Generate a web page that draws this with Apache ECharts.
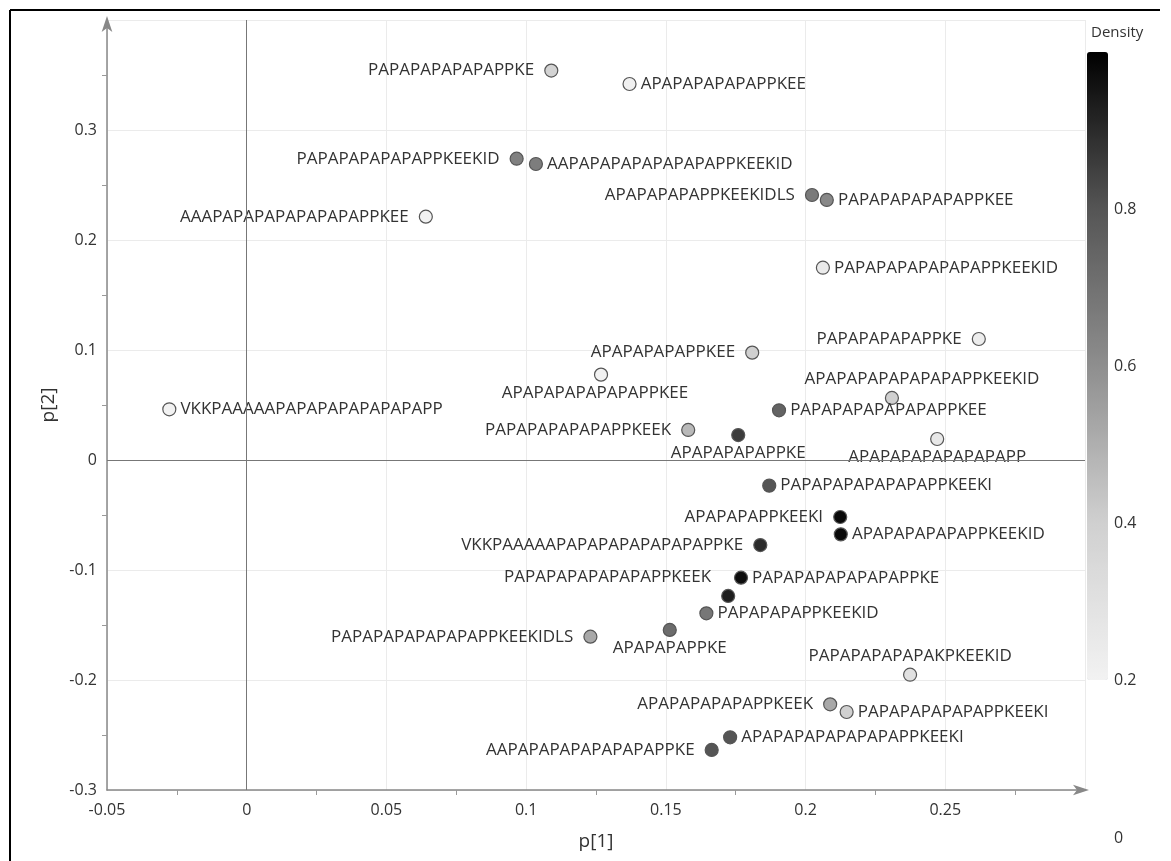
<!DOCTYPE html>
<html>
<head>
<meta charset="utf-8">
<script src="https://cdn.jsdelivr.net/npm/echarts@6/dist/echarts.min.js"></script>
<style>
html,body{margin:0;padding:0;background:#fff;}
#main{width:1171px;height:861px;}
</style>
</head>
<body>
<div id="main"></div>
<script>
// 肽段名称
var names = [
	'PAPAPAPAPAPAPPKE', 'APAPAPAPAPAPPKEE', 'PAPAPAPAPAPAPPKEEKID', 'AAPAPAPAPAPAPAPAPPKEEKID',
	'APAPAPAPAPPKEEKIDLS', 'PAPAPAPAPAPAPPKEE', 'AAAPAPAPAPAPAPAPAPPKEE', 'PAPAPAPAPAPAPAPPKEEKID',
	'PAPAPAPAPAPPKE', 'APAPAPAPAPPKEE', 'APAPAPAPAPAPAPPKEE', 'APAPAPAPAPAPAPAPPKEEKID',
	'PAPAPAPAPAPAPAPPKEE', 'PAPAPAPAPAPAPPKEEK', 'APAPAPAPAPPKE', 'APAPAPAPAPAPAPAPP',
	'PAPAPAPAPAPAPAPPKEEKI', 'APAPAPAPPKEEKI', 'APAPAPAPAPAPPKEEKID', 'VKKPAAAAAPAPAPAPAPAPAPAPPKE',
	'PAPAPAPAPAPAPAPPKE', 'PAPAPAPAPAPAPAPPKEEK', 'PAPAPAPAPPKEEKID', 'APAPAPAPPKE',
	'PAPAPAPAPAPAPAPPKEEKIDLS', 'PAPAPAPAPAPAKPKEEKID', 'APAPAPAPAPAPPKEEK', 'PAPAPAPAPAPAPPKEEKI',
	'APAPAPAPAPAPAPAPPKEEKI', 'AAPAPAPAPAPAPAPAPPKE', 'VKKPAAAAAPAPAPAPAPAPAPAPP'
];
// p[1]
var p1 = [
	0.109, 0.137, 0.0966, 0.1035,
	0.2023, 0.2076, 0.0641, 0.2062,
	0.262, 0.1809, 0.1268, 0.2309,
	0.1905, 0.158, 0.1759, 0.2471,
	0.187, 0.2124, 0.2126, 0.1838,
	0.1769, 0.1723, 0.1645, 0.1514,
	0.123, 0.2374, 0.2088, 0.2147,
	0.173, 0.1664, -0.0277
];
// p[2]
var p2 = [
	0.354, 0.3418, 0.2739, 0.2691,
	0.2409, 0.2364, 0.2212, 0.1748,
	0.11, 0.0976, 0.0776, 0.0564,
	0.0452, 0.0273, 0.0227, 0.0191,
	-0.0233, -0.0518, -0.0676, -0.0773,
	-0.107, -0.1236, -0.1394, -0.1545,
	-0.1606, -0.1952, -0.2221, -0.2291,
	-0.2521, -0.2636, 0.0461
];
// Density
var density = [
	0.38, 0.21, 0.65, 0.66,
	0.67, 0.62, 0.2, 0.25,
	0.23, 0.4, 0.2, 0.4,
	0.75, 0.47, 0.86, 0.26,
	0.8, 0.98, 0.98, 0.9,
	0.97, 0.93, 0.68, 0.72,
	0.52, 0.3, 0.52, 0.4,
	0.8, 0.8, 0.2
];
// 坐标轴范围
var xRange = [-0.05, 0.3, 0.05];
var yRange = [-0.3, 0.4, 0.1];
var densityRange = [0.2, 1.0];
var densityTicks = [0, 0.2, 0.4, 0.6, 0.8];

// 标签摆放：[位置, x偏移, y偏移]
var labelPlace = {
	0: ['left'], 1: ['right'], 2: ['left'], 3: ['right'], 4: ['left'], 5: ['right'],
	6: ['left'], 7: ['right'], 8: ['left'], 9: ['left'], 10: ['bottom', -6, 0],
	11: ['top', 30, 0], 12: ['right'], 13: ['left'], 14: ['bottom'], 15: ['bottom'],
	16: ['right'], 17: ['left'], 18: ['right'], 19: ['left'], 20: ['right'],
	21: ['left', 0, -19], 22: ['right'], 23: ['bottom'], 24: ['left'], 25: ['top'],
	26: ['left'], 27: ['right'], 28: ['right'], 29: ['left'], 30: ['right']
};

var FONT = '"Open Sans", "Noto Sans", sans-serif';

var points = [];
for (var i = 0; i < names.length; i++) {
	var lp = labelPlace[i] || ['right'];
	var pos = lp[0];
	var dist = pos === 'left' ? 10 : (pos === 'right' ? 4 : 3);
	points.push({
		name: names[i],
		value: [p1[i], p2[i], density[i]],
		label: {
			position: pos,
			distance: dist,
			offset: [lp[1] || 0, lp[2] || 0]
		}
	});
}

var chart = echarts.init(document.getElementById('main'));
var option = {
	animation: false,
	backgroundColor: '#fff',
	textStyle: { fontFamily: FONT },
	title: {
		text: 'Density',
		left: 1086,
		top: 20,
		textStyle: { fontSize: 15, fontWeight: 'normal', color: '#333', fontFamily: FONT }
	},
	grid: [{
		left: 107, right: 86, top: 20, bottom: 71
	}, {
		left: 1087, width: 21, top: 52, bottom: 23
	}],
	xAxis: [{
		type: 'value',
		min: xRange[0], max: xRange[1], interval: xRange[2],
		name: 'p[1]',
		nameLocation: 'middle',
		nameGap: 42,
		nameTextStyle: { fontSize: 19, color: '#333', fontFamily: FONT },
		axisLine: { onZero: false, lineStyle: { color: '#888', width: 1.5 }, symbol: ['none', 'arrow'], symbolSize: [8, 16], symbolOffset: [0, 4] },
		axisTick: { show: false },
		minorTick: { show: true, splitNumber: 2, length: 5, lineStyle: { color: '#999' } },
		axisLabel: {
			fontSize: 16, color: '#333', margin: 12, showMaxLabel: false, fontFamily: FONT,
			formatter: function (v) { return +v.toFixed(3) + ''; }
		},
		splitLine: { lineStyle: { color: '#ebebeb' } }
	}, {
		gridIndex: 1, type: 'value', show: false, min: 0, max: 1
	}],
	yAxis: [{
		type: 'value',
		min: yRange[0], max: yRange[1], interval: yRange[2],
		name: 'p[2]',
		nameLocation: 'middle',
		nameGap: 48,
		nameTextStyle: { fontSize: 19, color: '#333', fontFamily: FONT },
		axisLine: { onZero: false, lineStyle: { color: '#888', width: 1.5 }, symbol: ['none', 'arrow'], symbolSize: [8, 16], symbolOffset: [0, 4] },
		axisTick: { show: false },
		minorTick: { show: true, splitNumber: 2, length: 5, lineStyle: { color: '#999' } },
		axisLabel: {
			fontSize: 16, color: '#333', margin: 10, showMaxLabel: false, fontFamily: FONT,
			formatter: function (v) { return +v.toFixed(3) + ''; }
		},
		splitLine: { lineStyle: { color: '#ebebeb' } }
	}, {
		gridIndex: 1,
		type: 'value',
		position: 'right',
		min: 0, max: 1, interval: 0.2,
		axisLine: { show: false },
		axisTick: { show: false },
		axisLabel: {
			fontSize: 16, color: '#333', margin: 6, fontFamily: FONT,
			formatter: function (v) {
				for (var k = 0; k < densityTicks.length; k++) {
					if (Math.abs(densityTicks[k] - v) < 1e-6) return densityTicks[k] + '';
				}
				return '';
			}
		},
		splitLine: { show: false }
	}],
	visualMap: {
		type: 'continuous',
		seriesIndex: 0,
		dimension: 2,
		min: densityRange[0],
		max: densityRange[1],
		calculable: false,
		realtime: false,
		showLabel: false,
		text: ['', ''],
		left: 1087,
		top: 52,
		padding: 0,
		itemWidth: 21,
		itemHeight: 628,
		inRange: {
			color: ['#f2f2f2', '#d0d0d0', '#8e8e8e', '#555555', '#000000']
		},
		hoverLink: false
	},
	series: [{
		type: 'scatter',
		xAxisIndex: 0,
		yAxisIndex: 0,
		symbol: 'circle',
		symbolSize: 13,
		itemStyle: { borderColor: '#555', borderWidth: 1.2, opacity: 1 },
		label: {
			show: true,
			formatter: '{b}',
			fontSize: 17,
			color: '#333',
			fontFamily: FONT
		},
		data: points,
		markLine: {
			silent: true,
			symbol: 'none',
			animation: false,
			label: { show: false },
			lineStyle: { color: '#777', width: 1, type: 'solid' },
			data: [{ xAxis: 0 }, { yAxis: 0 }]
		},
		z: 3
	}],
	graphic: [{
		type: 'line', shape: { x1: 10, y1: 10, x2: 1160, y2: 10 },
		style: { stroke: '#000', lineWidth: 2 }, silent: true
	}, {
		type: 'line', shape: { x1: 10, y1: 10, x2: 10, y2: 861 },
		style: { stroke: '#000', lineWidth: 2 }, silent: true
	}]
};
chart.setOption(option);
</script>
</body>
</html>
